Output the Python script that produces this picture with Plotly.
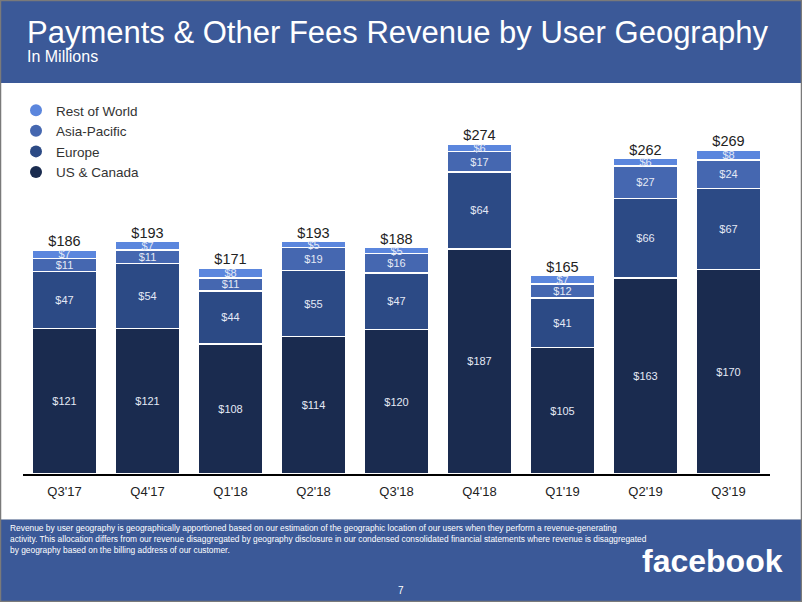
import plotly.graph_objects as go

quarters = ["Q3'17", "Q4'17", "Q1'18", "Q2'18", "Q3'18", "Q4'18", "Q1'19", "Q2'19", "Q3'19"]
us_canada = [121, 121, 108, 114, 120, 187, 105, 163, 170]
europe = [47, 54, 44, 55, 47, 64, 41, 66, 67]
asia_pacific = [11, 11, 11, 19, 16, 17, 12, 27, 24]
rest_of_world = [7, 7, 8, 5, 5, 6, 7, 6, 8]
totals = [186, 193, 171, 193, 188, 274, 165, 262, 269]

W, H = 802, 602
L, R, T, B = 23, 32, 100, 128
PW, PH = W - L - R, H - T - B

def px(x):
    return (x - L) / PW

def py(y):
    return (H - B - y) / PH

FONT = "Liberation Sans, Arial, sans-serif"
HEADER = "#3b5998"

series = [
    ("US & Canada", us_canada, "#1a2b4f"),
    ("Europe", europe, "#2c4a85"),
    ("Asia-Pacific", asia_pacific, "#4567b0"),
    ("Rest of World", rest_of_world, "#5b86dd"),
]

fig = go.Figure()
for name, vals, col in series:
    fig.add_trace(go.Bar(
        x=quarters, y=vals, name=name, marker=dict(color=col, line=dict(color="white", width=1.5)),
        text=[f"${v}" for v in vals], textposition="inside", insidetextanchor="middle",
        textangle=0, textfont=dict(color="#e4e9f5", size=11, family=FONT),
        showlegend=False, hoverinfo="skip",
    ))

fig.add_trace(go.Scatter(
    x=quarters, y=totals, mode="text", text=[f"${v}" for v in totals],
    textposition="top center", textfont=dict(size=14.5, color="#222222", family=FONT),
    showlegend=False, hoverinfo="skip", cliponaxis=False,
))

for name, vals, col in reversed(series):
    fig.add_trace(go.Scatter(x=[None], y=[None], mode="markers", name=name,
                             marker=dict(size=13, color=col, symbol="circle")))

shapes = [
    dict(type="rect", xref="paper", yref="paper", x0=px(0), x1=px(W), y0=py(83), y1=py(0),
         fillcolor=HEADER, line=dict(width=0), layer="below"),
    dict(type="rect", xref="paper", yref="paper", x0=px(0), x1=px(W), y0=py(H), y1=py(520),
         fillcolor=HEADER, line=dict(width=0), layer="below"),
    dict(type="line", xref="paper", yref="paper", x0=px(0), x1=px(W), y0=py(519.5), y1=py(519.5),
         line=dict(color="#9aa6bd", width=1)),
    dict(type="rect", xref="paper", yref="paper", x0=px(0.5), x1=px(W - 0.5), y0=py(H - 0.5), y1=py(0.5),
         line=dict(color="#7a7a7a", width=1.5), fillcolor="rgba(0,0,0,0)"),
]

annotations = [
    dict(text="Payments & Other Fees Revenue by User Geography", xref="paper", yref="paper",
         x=px(25), y=py(33), xanchor="left", yanchor="middle", showarrow=False,
         font=dict(size=31, color="white", family=FONT)),
    dict(text="In Millions", xref="paper", yref="paper",
         x=px(25), y=py(57), xanchor="left", yanchor="middle", showarrow=False,
         font=dict(size=16, color="white", family=FONT)),
    dict(text="Revenue by user geography is geographically apportioned based on our estimation of the geographic location of our users when they perform a revenue-generating<br>"
              "activity. This allocation differs from our revenue disaggregated by geography disclosure in our condensed consolidated financial statements where revenue is disaggregated<br>"
              "by geography based on the billing address of our customer.",
         xref="paper", yref="paper", x=px(8), y=py(521), xanchor="left", yanchor="top", align="left",
         showarrow=False, font=dict(size=8.4, color="white", family="Liberation Sans Narrow, " + FONT)),
    dict(text="<b>facebook</b>", xref="paper", yref="paper", x=px(785), y=py(561),
         xanchor="right", yanchor="middle", showarrow=False,
         font=dict(size=32, color="white", family=FONT)),
    dict(text="7", xref="paper", yref="paper", x=px(401), y=py(590),
         xanchor="center", yanchor="middle", showarrow=False,
         font=dict(size=10, color="white", family=FONT)),
]

fig.update_layout(
    width=W, height=H, margin=dict(l=L, r=R, t=T, b=B),
    barmode="stack", bargap=0.22,
    paper_bgcolor="white", plot_bgcolor="white",
    font=dict(family=FONT, color="#222222"),
    shapes=shapes, annotations=annotations,
    uniformtext=dict(minsize=11, mode="show"),
    legend=dict(x=px(16), y=py(95), xanchor="left", yanchor="top", traceorder="normal",
                font=dict(size=13.5, color="#333333", family=FONT), bgcolor="rgba(0,0,0,0)",
                itemsizing="constant", tracegroupgap=0),
    xaxis=dict(showline=True, linecolor="#000000", linewidth=1.5, ticks="", ticklabelstandoff=5,
               tickfont=dict(size=13, color="#222222", family=FONT), showgrid=False),
    yaxis=dict(visible=False, range=[0, PH / 1.204], showgrid=False, zeroline=False),
)

fig.write_html("out.html", config={"displayModeBar": False},
               post_script="document.body.style.margin='0';document.body.style.overflow='hidden';")
